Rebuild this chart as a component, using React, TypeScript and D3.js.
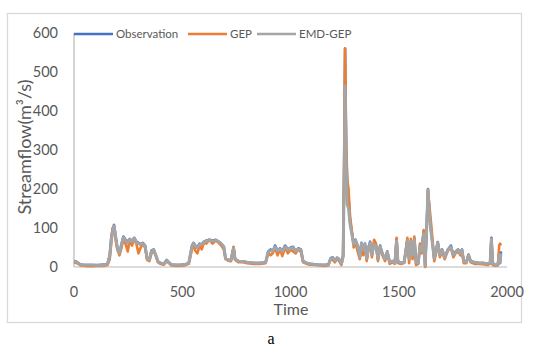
import React from "react";
import * as d3 from "d3";

const time = [0,10,20,30,50,80,110,140,155,165,172,178,185,192,200,210,220,228,238,248,258,268,278,288,298,308,318,328,338,348,358,368,378,388,400,415,428,438,450,480,510,530,545,552,560,570,580,590,600,612,625,640,655,668,680,692,700,712,725,737,744,760,780,800,830,860,885,897,908,918,929,940,952,962,975,988,1000,1012,1024,1036,1048,1058,1075,1090,1120,1150,1175,1185,1195,1205,1215,1225,1235,1243,1248,1252,1257,1262,1268,1275,1283,1292,1300,1310,1320,1328,1336,1344,1352,1360,1368,1376,1386,1395,1404,1414,1424,1437,1447,1458,1470,1482,1490,1496,1510,1525,1540,1548,1556,1564,1572,1580,1590,1598,1606,1615,1622,1630,1635,1641,1648,1656,1664,1672,1680,1690,1700,1712,1727,1741,1752,1763,1774,1785,1792,1800,1812,1822,1832,1850,1870,1890,1910,1922,1928,1934,1945,1958,1964,1968,1972];

const observation = [15,14,10,6,5,5,5,6,8,30,75,95,108,80,50,35,60,78,70,65,72,66,75,65,62,58,62,55,20,18,42,45,30,14,10,8,18,12,6,5,6,10,55,62,55,50,60,58,65,68,70,68,70,65,60,52,22,18,18,50,20,15,14,12,10,10,12,40,45,40,55,42,48,40,55,45,50,52,40,48,45,15,10,8,6,5,6,22,25,15,24,20,8,30,250,560,300,220,180,120,90,60,70,55,25,62,45,60,20,50,65,30,60,55,20,55,35,20,40,12,15,10,70,15,10,12,70,20,65,30,72,10,10,55,40,90,2,120,200,150,100,60,20,40,64,30,45,25,45,55,30,40,45,35,45,15,12,32,15,12,10,10,8,10,75,10,5,6,35,10,40];

const gep = [12,10,8,4,3,2,3,3,5,20,60,100,95,70,45,30,50,72,60,40,70,55,72,60,35,50,60,50,18,15,35,42,28,12,8,6,15,10,4,3,4,8,45,60,42,35,55,45,62,60,70,60,68,62,55,45,20,16,15,52,18,12,12,10,8,8,10,35,30,35,50,30,45,28,50,35,45,40,35,45,38,12,8,6,5,3,4,20,18,12,22,15,5,25,300,560,330,225,200,130,95,50,65,40,20,60,30,55,15,45,60,25,70,60,15,52,30,15,38,8,12,8,75,10,8,10,75,10,72,20,78,5,8,60,35,95,0,110,195,160,120,70,15,35,62,25,40,20,42,50,25,35,40,30,42,10,10,30,12,8,8,7,5,8,70,5,3,4,55,60,55];

const emdGep = [14,13,10,6,5,5,4,5,8,28,70,90,105,78,50,35,58,76,68,62,70,65,74,63,60,58,60,55,22,18,40,44,30,14,10,8,17,12,6,5,6,10,52,60,54,50,58,58,64,66,69,67,68,65,60,52,22,18,18,48,20,15,14,12,10,10,12,38,42,40,52,42,46,40,52,44,48,50,40,46,44,15,10,8,6,5,6,20,24,16,22,20,8,28,220,465,270,160,150,110,85,58,68,55,26,60,44,58,22,48,62,32,58,54,22,52,35,20,38,12,15,10,66,15,10,12,68,22,64,30,70,12,10,52,42,85,3,115,198,140,95,58,22,40,62,30,44,25,44,52,30,38,44,35,44,15,12,30,15,12,10,10,8,10,72,10,5,6,30,12,35];

const yTicks = [0, 100, 200, 300, 400, 500, 600];
const xTicks = [0, 500, 1000, 1500, 2000];
const seriesNames = ["Observation", "GEP", "EMD-GEP"];
const seriesColors = ["#4472C4", "#ED7D31", "#A5A5A5"];

export default function App() {
  const W = 533, H = 347;
  const x = d3.scaleLinear().domain([0, 2000]).range([74, 507]);
  const y = d3.scaleLinear().domain([0, 600]).range([267, 33]);
  const series = [observation, gep, emdGep];
  const line = (vals: number[]) =>
    d3.line<number>().x((_, i) => x(time[i])).y((v) => y(v))(vals) || "";
  const font = "Lato, 'Open Sans', sans-serif";
  const legendItems = [
    { x0: 74, x1: 113, tx: 116 },
    { x0: 188, x1: 227, tx: 230 },
    { x0: 257, x1: 296, tx: 299 },
  ];
  return (
    <svg width={W} height={H} style={{ position: "absolute", left: 0, top: 0, background: "#fff" }}>
      <rect x={7.5} y={13.5} width={514} height={309} fill="#fff" stroke="#D9D9D9" strokeWidth={1.3} />
      <line x1={x(0)} x2={x(2000)} y1={y(0)} y2={y(0)} stroke="#D0D0D0" strokeWidth={1.3} />
      <line x1={x(0)} x2={x(0)} y1={y(600)} y2={y(0)} stroke="#BFBFBF" strokeWidth={1.3} />
      {yTicks.map((t) => (
        <text key={t} x={58} y={y(t)} dy="0.35em" textAnchor="end" fontFamily={font} fontSize={14.5} fill="#595959">
          {t}
        </text>
      ))}
      {xTicks.map((t) => (
        <text key={t} x={x(t)} y={297} textAnchor="middle" fontFamily={font} fontSize={14.5} fill="#595959">
          {t}
        </text>
      ))}
      <text x={291} y={315} textAnchor="middle" fontFamily={font} fontSize={16} fill="#595959">Time</text>
      <text transform={`translate(31,147) rotate(-90)`} textAnchor="middle" fontFamily={font} fontSize={18} fill="#595959">
        Streamflow(m³/s)
      </text>
      {series.map((s, i) => (
        <path key={i} d={line(s)} fill="none" stroke={seriesColors[i]} strokeWidth={i === 2 ? 3 : 2.6} strokeLinejoin="round" />
      ))}
      {legendItems.map((l, i) => (
        <g key={i}>
          <line x1={l.x0} x2={l.x1} y1={34} y2={34} stroke={seriesColors[i]} strokeWidth={2.6} />
          <text x={l.tx} y={34} dy="0.35em" fontFamily={font} fontSize={11.5} fill="#595959">{seriesNames[i]}</text>
        </g>
      ))}
      <text x={271} y={344} textAnchor="middle" fontFamily="'Liberation Serif', serif" fontSize={16} fill="#000">a</text>
    </svg>
  );
}
